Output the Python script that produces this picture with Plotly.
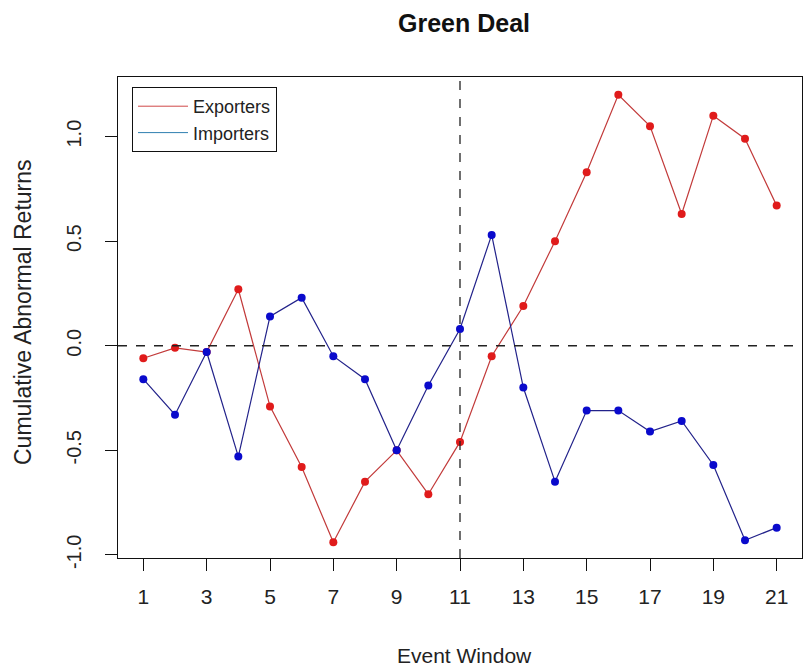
import plotly.graph_objects as go

event_window = list(range(1, 22))
exporters = [-0.06, -0.01, -0.03, 0.27, -0.29, -0.58, -0.94, -0.65, -0.50, -0.71, -0.46,
             -0.05, 0.19, 0.50, 0.83, 1.20, 1.05, 0.63, 1.10, 0.99, 0.67]
importers = [-0.16, -0.33, -0.03, -0.53, 0.14, 0.23, -0.05, -0.16, -0.50, -0.19, 0.08,
             0.53, -0.20, -0.65, -0.31, -0.31, -0.41, -0.36, -0.57, -0.93, -0.87]
x_ticks = [1, 3, 5, 7, 9, 11, 13, 15, 17, 19, 21]
y_ticks = [-1.0, -0.5, 0.0, 0.5, 1.0]
y_tick_text = ["-1.0", "-0.5", "0.0", "0.5", "1.0"]
event_day = 11

FONT = "Liberation Sans, Arial, sans-serif"
RED = "#e01b1b"
BLUE = "#0a0acc"
W, H = 807, 671
L, R, T, B = 118, 5, 77, 113
PW, PH = W - L - R, H - T - B

fig = go.Figure()
fig.add_trace(go.Scatter(x=event_window, y=exporters, mode="lines+markers",
                         line=dict(color="#c23a3a", width=1.2),
                         marker=dict(color=RED, size=8), showlegend=False))
fig.add_trace(go.Scatter(x=event_window, y=importers, mode="lines+markers",
                         line=dict(color="#22228a", width=1.2),
                         marker=dict(color=BLUE, size=8), showlegend=False))
# legend entries (line only, as in R legend)
fig.add_trace(go.Scatter(x=[None], y=[None], mode="lines", name="Exporters",
                         line=dict(color="#d04848", width=1)))
fig.add_trace(go.Scatter(x=[None], y=[None], mode="lines", name="Importers",
                         line=dict(color="#2f7fb0", width=1)))

fig.add_hline(y=0, line=dict(color="#222", width=1.3, dash="dash"))
fig.add_vline(x=event_day, line=dict(color="#222", width=1.3, dash="dash"))

fig.update_layout(
    width=W, height=H, autosize=False,
    margin=dict(l=L, r=R, t=T, b=B),
    paper_bgcolor="white", plot_bgcolor="white",
    font=dict(family=FONT, color="#222", size=20),
    title=dict(text="<b>Green Deal</b>", x=464 / W, xanchor="center",
               y=1 - 23 / H, yanchor="middle",
               font=dict(size=25, family=FONT, color="#111")),
    legend=dict(x=(132 - L) / PW, y=1 - (87 - T) / PH, xanchor="left", yanchor="top",
                bordercolor="#111", borderwidth=1, bgcolor="white",
                font=dict(size=18, family=FONT, color="#222"),
                tracegroupgap=0, itemwidth=50),
    xaxis=dict(range=[0.2, 21.8], tickvals=x_ticks, showgrid=False, zeroline=False,
               showline=True, linecolor="#111", linewidth=1, mirror=True,
               ticks="outside", ticklen=12, tickcolor="#111", ticklabelstandoff=8,
               tickfont=dict(size=21, family=FONT, color="#222")),
    yaxis=dict(range=[-1.015, 1.285], tickvals=y_ticks, ticktext=y_tick_text,
               showgrid=False, zeroline=False,
               showline=True, linecolor="#111", linewidth=1, mirror=True,
               ticks="outside", ticklen=12, tickcolor="#111", tickangle=-90,
               ticklabelstandoff=16,
               tickfont=dict(size=20, family=FONT, color="#222")),
    annotations=[
        dict(text="Event Window", xref="paper", yref="paper", x=(464 - L) / PW,
             y=-(655 - (T + PH)) / PH,
             xanchor="center", yanchor="middle", showarrow=False,
             font=dict(size=21, family=FONT, color="#222")),
        dict(text="Cumulative Abnormal Returns", xref="paper", yref="paper",
             x=-(L - 23) / PW, y=(T + PH - 312) / PH, xanchor="center", yanchor="middle",
             textangle=-90, showarrow=False,
             font=dict(size=23, family=FONT, color="#222")),
    ],
)

fig.write_html("out.html", config={"displayModeBar": False},
               post_script="document.body.style.margin='0px';")
